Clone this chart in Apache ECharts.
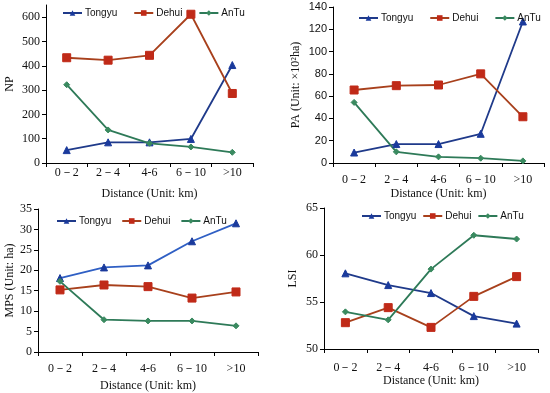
<!DOCTYPE html>
<html><head><meta charset="utf-8">
<script src="https://cdn.jsdelivr.net/npm/echarts@6/dist/echarts.min.js"></script>
<style>html,body{margin:0;padding:0;background:#fff}#c{width:550px;height:393px}</style>
</head><body><div id="c"></div>
<script>
var categories = ['0－2', '2－4', '4-6', '6－10', '>10'];
var seriesNames = ['Tongyu', 'Dehui', 'AnTu'];
// NP
var npTongyu = [53, 85, 85, 99, 403];
var npDehui = [433, 423, 443, 612, 286];
var npAnTu = [322, 136, 81, 66, 44];
// PA
var paTongyu = [9.4, 17, 17, 26.2, 127];
var paDehui = [65.5, 69.4, 70, 80, 41.5];
var paAnTu = [54.4, 10, 5.5, 4.3, 1.9];
// MPS
var mpsTongyu = [18.1, 20.7, 21.2, 27.1, 31.5];
var mpsDehui = [15.2, 16.4, 16.0, 13.2, 14.7];
var mpsAnTu = [17.3, 7.9, 7.6, 7.6, 6.4];
// LSI
var lsiTongyu = [58.05, 56.8, 55.95, 53.5, 52.7];
var lsiDehui = [52.8, 54.4, 52.3, 55.6, 57.7];
var lsiAnTu = [53.95, 53.1, 58.5, 62.1, 61.7];

var serif = '"Liberation Serif","Times New Roman",serif';
var sans = '"Liberation Sans",Arial,sans-serif';

var panels = [
  {grid:{left:46,right:297,top:5,bottom:230}, min:0,max:650,interval:100, yName:'NP', yGap:30, xGap:25, xMargin:4, yFont:serif,
   legend:{left:62,top:8,gap:16}, data:[npTongyu,npDehui,npAnTu], tongyuColor:'#1f3a8a'},
  {grid:{left:333,right:6,top:7,bottom:230}, min:0,max:140,interval:20, yName:'PA (Unit: ×10²ha)', yGap:31, xGap:25, xMargin:11, yFont:sans,
   legend:{left:358,top:13,gap:16}, data:[paTongyu,paDehui,paAnTu], tongyuColor:'#1f3a8a'},
  {grid:{left:38,right:292,top:209,bottom:41}, min:0,max:35,interval:5, yName:'MPS (Unit: ha)', yGap:21, xGap:28, xMargin:11, yFont:serif,
   legend:{left:56,top:216,gap:10}, data:[mpsTongyu,mpsDehui,mpsAnTu], tongyuColor:'#2f5fc4'},
  {grid:{left:324,right:12,top:208,bottom:44}, min:50,max:65,interval:5, yName:'LSI', yGap:25, xGap:25, xMargin:13, yFont:serif,
   legend:{left:361,top:211,gap:6}, data:[lsiTongyu,lsiDehui,lsiAnTu], tongyuColor:'#1f3a8a'}
];

var option = {animation:false, backgroundColor:'#fff', grid:[], xAxis:[], yAxis:[], legend:[], series:[]};
panels.forEach(function(p, i){
  option.grid.push(p.grid);
  option.xAxis.push({type:'category', gridIndex:i, data:categories, boundaryGap:true,
    name:'Distance (Unit: km)', nameLocation:'middle', nameGap:p.xGap,
    nameTextStyle:{fontFamily:serif, fontSize:12, color:'#111'},
    axisLine:{lineStyle:{color:'#000', width:1}},
    axisTick:{show:true, length:4, alignWithLabel:false, lineStyle:{color:'#000'}},
    axisLabel:{fontFamily:serif, fontSize:12, color:'#111', margin:p.xMargin, interval:0},
    splitLine:{show:false}});
  option.yAxis.push({type:'value', gridIndex:i, min:p.min, max:p.max, interval:p.interval,
    name:p.yName, nameLocation:'middle', nameGap:p.yGap, nameRotate:90,
    nameTextStyle:{fontFamily:serif, fontSize:12, color:'#111'},
    axisLine:{show:true, lineStyle:{color:'#000', width:1}},
    axisTick:{show:true, length:4, lineStyle:{color:'#000'}},
    axisLabel:{fontFamily:p.yFont, fontSize:(p.yFont===sans?11:12), color:'#111', margin:6, showMaxLabel: p.max % p.interval === 0},
    splitLine:{show:false}});
  var colors = [p.tongyuColor, '#a8401c', '#2e7a58'];
  var markerColors = ['#1a3a9c', '#c02a18', '#3a8a60'];
  var symbols = ['triangle', 'rect', 'diamond'];
  var sizes = [7, 8, 6];
  option.legend.push({left:p.legend.left, top:p.legend.top, width:260, orient:'horizontal', itemWidth:19, itemHeight:7, itemGap:p.legend.gap,
    textStyle:{fontFamily:sans, fontSize:10, color:'#111', padding:[0,0,0,-2]}, data:seriesNames.slice(), padding:0,
    selectedMode:false});
  seriesNames.forEach(function(n, k){
    option.series.push({type:'line', name:n, xAxisIndex:i, yAxisIndex:i, data:p.data[k],
      symbol:symbols[k], symbolSize:sizes[k],
      lineStyle:{color:colors[k], width:1.8},
      itemStyle:{color:markerColors[k], borderColor:markerColors[k]}});
  });
});
var chart = echarts.init(document.getElementById('c'), null, {renderer:'canvas'});
chart.setOption(option);
</script></body></html>
